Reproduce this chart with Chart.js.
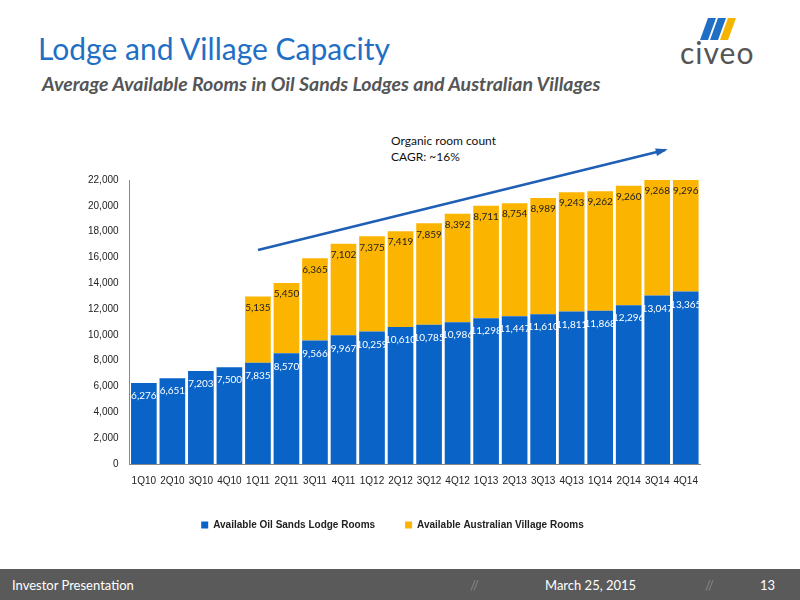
<!DOCTYPE html>
<html><head><meta charset="utf-8">
<script src="https://cdn.jsdelivr.net/npm/chart.js@4"></script>
<style>
body{margin:0;width:800px;height:600px;position:relative;background:#fff;font-family:Lato,"Open Sans",sans-serif;overflow:hidden}
#title{position:absolute;left:38px;top:30px;font-size:30px;color:#1f6fc5}
#sub{position:absolute;left:42px;top:72px;font-size:19.5px;font-weight:bold;font-style:italic;color:#555}
#ann{position:absolute;left:391px;top:133px;font-size:12px;color:#111;line-height:16px}
#logo{position:absolute;left:680px;top:34px;font-size:30px;color:#555;letter-spacing:1px}
#footer{position:absolute;left:0;top:569px;width:800px;height:31px;background:#5a5a5a;color:#fff;font-size:13px}
#footer span{position:absolute;top:8px}
#wrap{position:absolute;left:85px;top:130px;width:625px;height:410px}
</style></head><body>
<div id="title">Lodge and Village Capacity</div>
<div id="sub">Average Available Rooms in Oil Sands Lodges and Australian Villages</div>
<div id="ann">Organic room count<br>CAGR: ~16%</div>
<div id="logo">civeo</div>
<svg style="position:absolute;left:700px;top:18px" width="40" height="22"><polygon points="0,22 8,22 16,0 8,0" fill="#1f6fc5"/><polygon points="10,22 18,22 26,0 18,0" fill="#1f6fc5"/><polygon points="20,22 28,22 36,0 28,0" fill="#f5b400"/></svg>
<div id="footer"><span style="left:12px">Investor Presentation</span><span style="left:470px;color:#888">//</span><span style="left:545px">March 25, 2015</span><span style="left:705px;color:#888">//</span><span style="left:760px">13</span></div>
<div id="wrap"><canvas id="c"></canvas></div>
<script>
const categories=["1Q10","2Q10","3Q10","4Q10","1Q11","2Q11","3Q11","4Q11","1Q12","2Q12","3Q12","4Q12","1Q13","2Q13","3Q13","4Q13","1Q14","2Q14","3Q14","4Q14"];
const oilSands=[6276,6651,7203,7500,7835,8570,9566,9967,10259,10610,10785,10986,11298,11447,11610,11811,11868,12296,13047,13365];
const australia=[null,null,null,null,5135,5450,6365,7102,7375,7419,7859,8392,8711,8754,8989,9243,9262,9260,9268,9296];
const fmt=v=>v.toLocaleString('en-US');
const labelPlugin={id:'lbl',afterDatasetsDraw(ch){
  const ctx=ch.ctx;ctx.save();ctx.font='10px Lato, sans-serif';ctx.textAlign='center';
  ch.data.datasets.forEach((ds,di)=>{const m=ch.getDatasetMeta(di);
    m.data.forEach((b,i)=>{const v=ds.data[i];if(v==null)return;
      const y=Math.max(b.y,ch.chartArea.top);
      ctx.fillStyle=di==0?'#fff':'#222';ctx.fillText(fmt(v),b.x,y+(di==0?13:11));});});
  const x1=258-85,y1=250-130,x2=665-85,y2=150-130;
  ctx.strokeStyle='#1f5fb5';ctx.lineWidth=2.5;ctx.beginPath();ctx.moveTo(x1,y1);ctx.lineTo(x2,y2);ctx.stroke();
  const ang=Math.atan2(y2-y1,x2-x1);ctx.fillStyle='#1f5fb5';ctx.beginPath();ctx.moveTo(x2+3*Math.cos(ang),y2+3*Math.sin(ang));
  ctx.lineTo(x2-10*Math.cos(ang-0.4),y2-10*Math.sin(ang-0.4));ctx.lineTo(x2-10*Math.cos(ang+0.4),y2-10*Math.sin(ang+0.4));ctx.fill();
  ctx.restore();}};
new Chart(document.getElementById('c'),{type:'bar',
 data:{labels:categories,datasets:[
  {label:'Available Oil Sands Lodge Rooms',data:oilSands,backgroundColor:'#0a64c8',barPercentage:0.9,categoryPercentage:1},
  {label:'Available Australian Village Rooms',data:australia,backgroundColor:'#fbb400',barPercentage:0.9,categoryPercentage:1}]},
 options:{animation:false,responsive:true,maintainAspectRatio:false,
  layout:{padding:{top:50,right:10}},
  plugins:{legend:{position:'bottom',labels:{boxWidth:7,boxHeight:7,font:{size:10,weight:'bold'},color:'#222',padding:30}},tooltip:{enabled:false}},
  scales:{x:{stacked:true,grid:{display:false},border:{color:'#888'},ticks:{font:{size:10},color:'#222',maxRotation:0}},
   y:{stacked:true,min:0,max:22000,ticks:{stepSize:2000,font:{size:10},color:'#222',callback:v=>fmt(v)},grid:{display:false},border:{color:'#888'}}}},
 plugins:[labelPlugin]});
</script></body></html>
